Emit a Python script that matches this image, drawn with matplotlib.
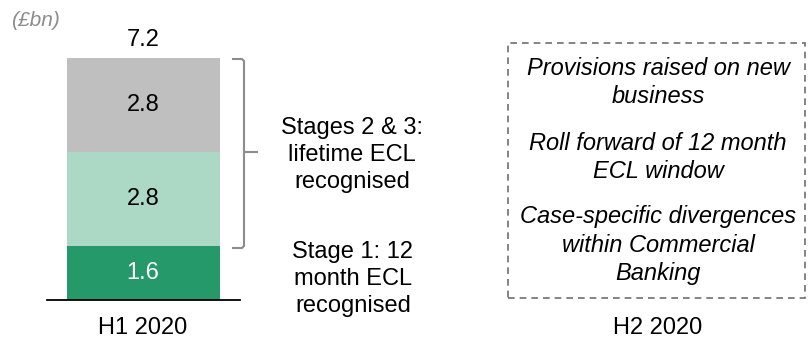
import matplotlib.pyplot as plt
from matplotlib.patches import Rectangle

plt.rcParams['font.family'] = ['Liberation Sans', 'DejaVu Sans']

periods = ["H1 2020", "H2 2020"]
stage_labels = ["Stage 1", "Stage 2", "Stage 3"]
h1_values = [1.6, 2.8, 2.8]
h1_total = 7.2
colors = ["#26996a", "#acd9c5", "#bfbfbf"]
text_colors = ["white", "black", "black"]
stage23_note = "Stages 2 & 3:\nlifetime ECL\nrecognised"
stage1_note = "Stage 1: 12\nmonth ECL\nrecognised"
h2_notes = ["Provisions raised on new\nbusiness",
            "Roll forward of 12 month\nECL window",
            "Case-specific divergences\nwithin Commercial\nBanking"]

W, H = 810, 340
fig = plt.figure(figsize=(W / 100, H / 100), dpi=100)
ax = fig.add_axes([0, 0, 1, 1])

# pixel -> data mapping (baseline at y=300px, 33.6 px per £bn; category step 515px)
base_px, ppu = 300, 33.6
x0_px, step = 143, 515
def px(x): return (x - x0_px) / step
def py(y): return (base_px - y) / ppu

ax.set_xlim(px(0), px(W))
ax.set_ylim(py(H), py(0))
ax.axis("off")

fs = 17
width = 153 / step
bottom = 0
for v, c, tc in zip(h1_values, colors, text_colors):
    ax.bar(0, v, width=width, bottom=bottom, color=c, edgecolor="none")
    ax.text(0, bottom + v / 2, f"{v:.1f}", ha="center", va="center", fontsize=fs, color=tc)
    bottom += v
ax.text(0, py(40), f"{h1_total:.1f}", ha="center", va="center", fontsize=fs)
ax.plot([px(47), px(240)], [0, 0], color="black", lw=1.3)

# bracket over stages 2 & 3
top, low = sum(h1_values), h1_values[0]
mid = (top + low) / 2
ax.plot([px(233), px(242), px(244), px(244), px(242), px(233)],
        [py(59), py(59), py(61), py(246), py(248), py(248)],
        color="#8c8c8c", lw=1.5)
ax.plot([px(244), px(257)], [mid, mid], color="#8c8c8c", lw=1.5)

ax.text(px(352), py(155), stage23_note, ha="center", va="center", fontsize=fs, linespacing=1.3)
ax.text(px(353), py(279), stage1_note, ha="center", va="center", fontsize=fs, linespacing=1.3)

ax.text(px(11), py(20), "(£bn)", ha="left", va="center", fontsize=15, style="italic", color="#8c8c8c")

# H2 dashed box
ax.add_patch(Rectangle((px(508), py(298)), px(805) - px(508), py(43) - py(298),
                       fill=False, edgecolor="#707070", lw=1.2, ls=(0, (4, 3))))
for note, y in zip(h2_notes, [82.5, 157.5, 245]):
    ax.text(1, py(y), note, ha="center", va="center", fontsize=fs, style="italic", linespacing=1.3)

for i, p in enumerate(periods):
    ax.text(i, py(328), p, ha="center", va="center", fontsize=fs)

fig.savefig("out.png", dpi=100)
